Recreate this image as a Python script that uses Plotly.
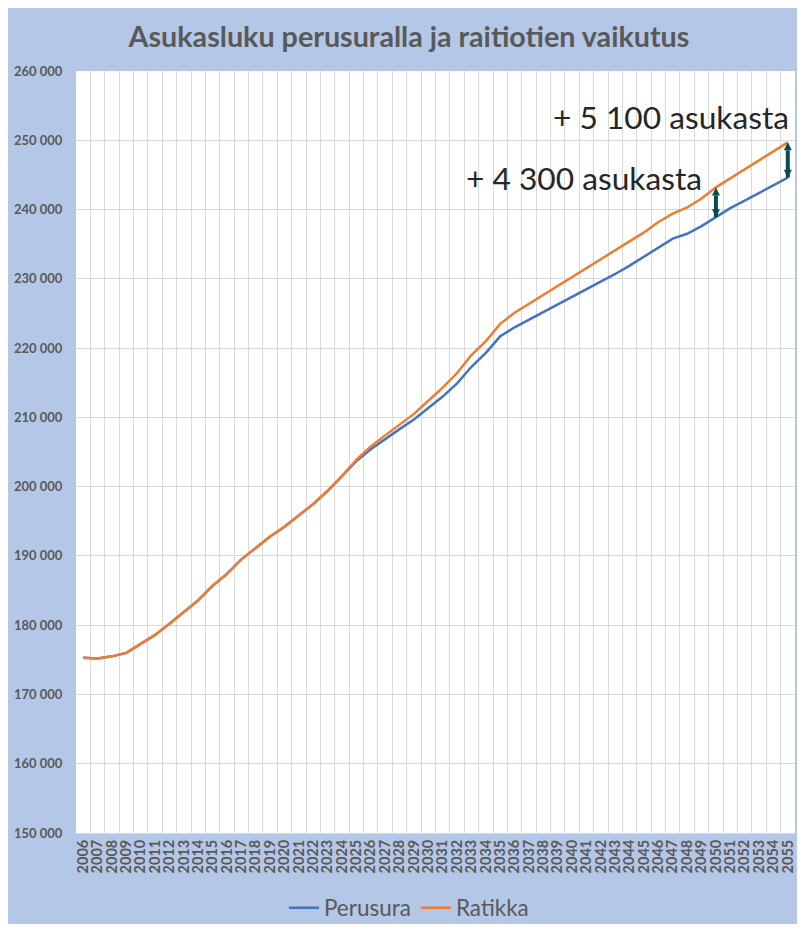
import plotly.graph_objects as go

# data
years = [str(y) for y in range(2006, 2056)]
perusura = [175300, 175200, 175500, 176000, 177300, 178600, 180200, 181900, 183600, 185700,
            187400, 189500, 191100, 192800, 194200, 195900, 197500, 199400, 201500, 203700,
            205400, 206900, 208300, 209700, 211300, 213000, 214900, 217300, 219300, 221700,
            223000, 224100, 225100, 226200, 227300, 228400, 229500, 230700, 231900, 233200,
            234600, 235800, 236500, 237600, 238900, 240200, 241300, 242400, 243500, 244600]
ratikka = [175300, 175200, 175500, 176000, 177300, 178600, 180200, 181900, 183600, 185700,
           187400, 189500, 191100, 192800, 194200, 195900, 197500, 199400, 201500, 203900,
           205800, 207400, 208900, 210500, 212400, 214300, 216400, 219000, 221000, 223500,
           225100, 226400, 227700, 228900, 230300, 231500, 232800, 234100, 235500, 236700,
           238200, 239400, 240300, 241600, 243200, 244500, 245800, 247100, 248400, 249700]
series_names = ["Perusura", "Ratikka"]
diff_years = ["2050", "2055"]
diff_labels = ["+ 4 300 asukasta", "+ 5 100 asukasta"]
title_text = "Asukasluku perusuralla ja raitiotien vaikutus"

# page body has an 8px margin, so the figure is sized to fit inside it
W, H = 789, 916
L, R, T, B = 68, 2, 63, 91
BG = "#B4C7E7"
GRAY = "#595959"
GRID = "#D9D9D9"
ARROW = "#0C4A4E"
FONT = "Lato"

fig = go.Figure()
fig.add_trace(go.Scatter(x=years, y=perusura, name=series_names[0], mode="lines",
                         line=dict(color="#4472C4", width=2.5)))
fig.add_trace(go.Scatter(x=years, y=ratikka, name=series_names[1], mode="lines",
                         line=dict(color="#ED7D31", width=2.5)))

# double-headed arrows between the two lines
for yr in diff_years:
    i = years.index(yr)
    fig.add_trace(go.Scatter(x=[yr, yr], y=[perusura[i], ratikka[i]], mode="lines+markers",
                             line=dict(color=ARROW, width=4),
                             marker=dict(symbol=["arrow-down", "arrow-up"], size=8, color=ARROW),
                             showlegend=False, hoverinfo="skip"))

px_x = lambda p: (p - L) / (W - L - R)
px_y = lambda p: (H - B - p) / (H - T - B)

# difference labels (right-aligned, placed in pixels)
annotations = []
label_pos = [(696, 170), (783, 109)]
for txt, (px, py) in zip(diff_labels, label_pos):
    annotations.append(dict(x=px_x(px), y=px_y(py), xref="paper", yref="paper",
                            xanchor="right", yanchor="middle", text=txt, showarrow=False,
                            font=dict(family=FONT, size=31.7, color="#262626")))

fig.update_layout(
    width=W, height=H,
    margin=dict(l=L, r=R, t=T, b=B, autoexpand=False),
    paper_bgcolor=BG, plot_bgcolor="white",
    separators=", ",
    title=dict(text=title_text, x=401 / W, xanchor="center", y=1 - 29 / H, yanchor="middle",
               font=dict(family=FONT, size=28.7, color=GRAY, weight="bold")),
    legend=dict(orientation="h", x=0.463, xanchor="center",
                yref="container", y=1 - 900 / H, yanchor="middle",
                font=dict(family=FONT, size=22.5, color=GRAY), bgcolor="rgba(0,0,0,0)"),
    annotations=annotations,
    showlegend=True,
)
fig.update_xaxes(type="category", range=[-0.5, len(years) - 0.5], tickson="boundaries",
                 tickmode="array", tickvals=years, ticktext=years, automargin=False,
                 showgrid=True, gridcolor=GRID, gridwidth=1,
                 tickangle=-90, ticks="outside", ticklen=11, tickcolor="rgba(0,0,0,0)",
                 showline=True, linecolor=GRID,
                 tickfont=dict(family=FONT, size=14.5, color=GRAY, weight="bold"))
fig.update_yaxes(range=[150000, 260000], tick0=150000, dtick=10000, tickformat=",d",
                 showgrid=True, gridcolor=GRID, gridwidth=1, zeroline=False, automargin=False,
                 ticks="outside", ticklen=10, tickcolor="rgba(0,0,0,0)",
                 showline=False,
                 tickfont=dict(family=FONT, size=13, color=GRAY, weight="bold"))

fig.write_html("out.html")
